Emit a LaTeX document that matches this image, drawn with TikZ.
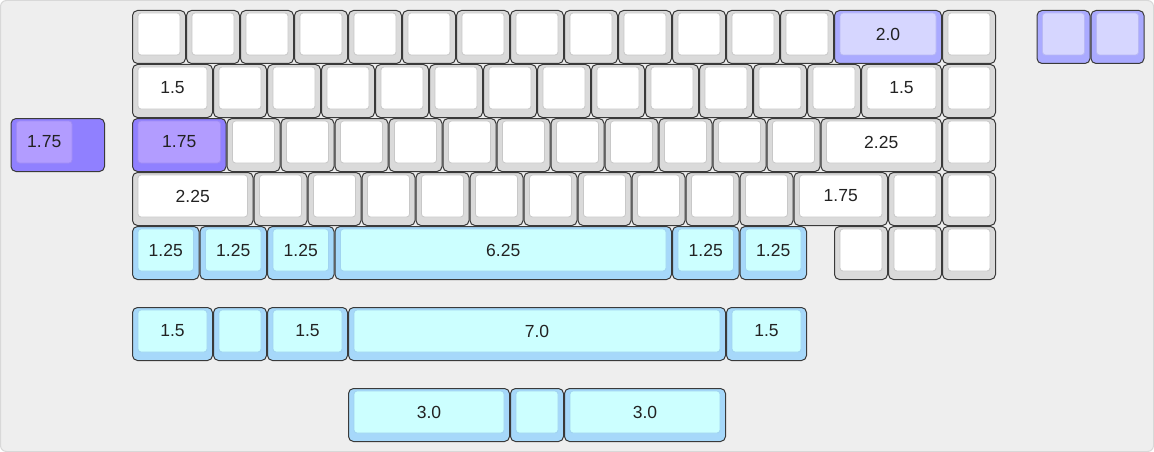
\documentclass[tikz,border=0pt]{standalone}
\usepackage{fontspec}
\setmainfont{Liberation Sans}
\definecolor{bgcol}{HTML}{EEEEEE}
\definecolor{bgline}{HTML}{D8D8D8}
\definecolor{keyline}{HTML}{3A3A3A}
\definecolor{grayout}{HTML}{DADADA}
\definecolor{grayin}{HTML}{FFFFFF}
\definecolor{grayinl}{HTML}{C8C8C8}
\definecolor{blueout}{HTML}{A6D8FA}
\definecolor{bluein}{HTML}{CCFFFF}
\definecolor{blueinl}{HTML}{A0D4F0}
\definecolor{purpout}{HTML}{9080FF}
\definecolor{purpin}{HTML}{B29CFF}
\definecolor{purpinl}{HTML}{A08CF4}
\definecolor{lavout}{HTML}{AAAAFF}
\definecolor{lavin}{HTML}{D6D6FF}
\definecolor{lavinl}{HTML}{B8B8F4}
\definecolor{txtcol}{HTML}{222222}
\tikzset{
  outerkey/.style={draw=keyline, line width=1pt, rounded corners=5pt, minimum height=53pt, inner sep=0pt, outer sep=0pt},
  innerkey/.style={line width=0.8pt, rounded corners=3pt, minimum height=42pt, inner sep=0pt, outer sep=0pt,
    text=txtcol, font=\fontsize{17.5}{19}\selectfont},
  grayo/.style={fill=grayout}, grayi/.style={fill=grayin, draw=grayinl},
  blueo/.style={fill=blueout}, bluei/.style={fill=bluein, draw=blueinl},
  purpo/.style={fill=purpout}, purpi/.style={fill=purpin, draw=purpinl},
  lavo/.style={fill=lavout}, lavi/.style={fill=lavin, draw=lavinl},
}
% name, x, y, outer width, style, label, inner width (units)
\newcommand\kbkeyw[7]{%
  \pgfmathsetmacro\kX{132+54*(#2)}%
  \pgfmathsetmacro\kY{10+54*(#3)}%
  \pgfmathsetmacro\kW{54*(#4)-1}%
  \pgfmathsetmacro\kIW{54*(#7)-12}%
  \node[outerkey,#5o,minimum width=\kW pt,anchor=north west] (#1) at (\kX+0.5,\kY+0.5) {};%
  \node[innerkey,#5i,minimum width=\kIW pt,anchor=north west] (#1t) at (\kX+6,\kY+3) {#6};%
}
\newcommand\kbkey[6]{\kbkeyw{#1}{#2}{#3}{#4}{#5}{#6}{#4}}
\begin{document}
\begin{tikzpicture}[x=1pt,y=-1pt]
\useasboundingbox (0,0) rectangle (1154,452);
\fill[bgcol, draw=bgline, line width=1pt, rounded corners=6pt] (0.5,0.5) rectangle (1153.5,451.5);
% row 0
\foreach \i in {0,...,12}{\kbkey{r0k\i}{\i}{0}{1}{gray}{}}
\kbkey{r0two}{13}{0}{2}{lav}{2.0}
\kbkey{r0end}{15}{0}{1}{gray}{}
\kbkey{xa}{16.75}{0}{1}{lav}{}
\kbkey{xb}{17.75}{0}{1}{lav}{}
% row 1
\kbkey{r1a}{0}{1}{1.5}{gray}{1.5}
\foreach \i in {0,...,11}{\kbkey{r1k\i}{1.5+\i}{1}{1}{gray}{}}
\kbkey{r1b}{13.5}{1}{1.5}{gray}{1.5}
\kbkey{r1end}{15}{1}{1}{gray}{}
% row 2
\kbkeyw{xl}{-2.25}{2}{1.75}{purp}{1.75}{1.25}
\kbkey{r2a}{0}{2}{1.75}{purp}{1.75}
\foreach \i in {0,...,10}{\kbkey{r2k\i}{1.75+\i}{2}{1}{gray}{}}
\kbkey{r2b}{12.75}{2}{2.25}{gray}{2.25}
\kbkey{r2end}{15}{2}{1}{gray}{}
% row 3
\kbkey{r3a}{0}{3}{2.25}{gray}{2.25}
\foreach \i in {0,...,9}{\kbkey{r3k\i}{2.25+\i}{3}{1}{gray}{}}
\kbkey{r3b}{12.25}{3}{1.75}{gray}{1.75}
\kbkey{r3c}{14}{3}{1}{gray}{}
\kbkey{r3end}{15}{3}{1}{gray}{}
% row 4
\kbkey{r4a}{0}{4}{1.25}{blue}{1.25}
\kbkey{r4b}{1.25}{4}{1.25}{blue}{1.25}
\kbkey{r4c}{2.5}{4}{1.25}{blue}{1.25}
\kbkey{r4sp}{3.75}{4}{6.25}{blue}{6.25}
\kbkey{r4d}{10}{4}{1.25}{blue}{1.25}
\kbkey{r4e}{11.25}{4}{1.25}{blue}{1.25}
\kbkey{r4f}{13}{4}{1}{gray}{}
\kbkey{r4g}{14}{4}{1}{gray}{}
\kbkey{r4h}{15}{4}{1}{gray}{}
% row 5
\kbkey{r5a}{0}{5.5}{1.5}{blue}{1.5}
\kbkey{r5b}{1.5}{5.5}{1}{blue}{}
\kbkey{r5c}{2.5}{5.5}{1.5}{blue}{1.5}
\kbkey{r5sp}{4}{5.5}{7}{blue}{7.0}
\kbkey{r5d}{11}{5.5}{1.5}{blue}{1.5}
% row 6
\kbkey{r6a}{4}{7}{3}{blue}{3.0}
\kbkey{r6b}{7}{7}{1}{blue}{}
\kbkey{r6c}{8}{7}{3}{blue}{3.0}
\end{tikzpicture}
\end{document}
